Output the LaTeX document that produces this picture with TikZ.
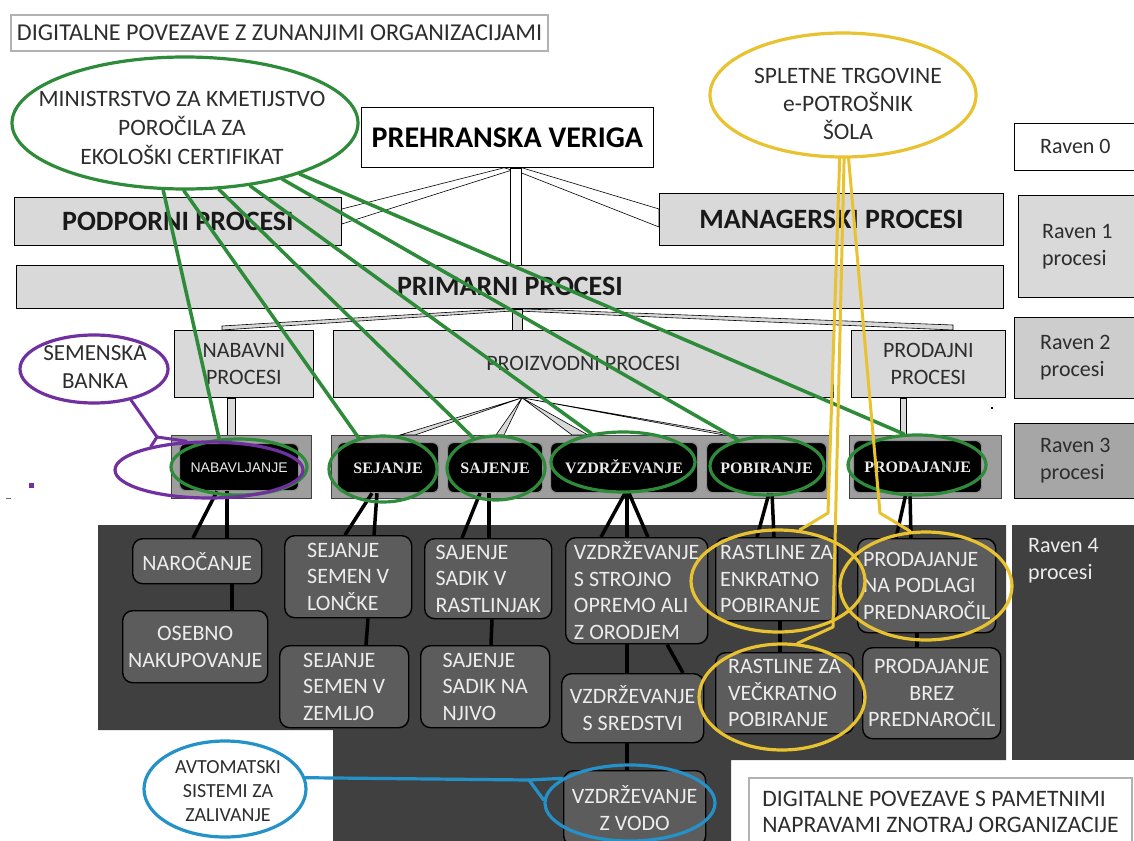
\documentclass[tikz,border=0pt]{standalone}
\usepackage{fontspec}
\setmainfont{Carlito}
\newfontfamily\timesfont{Liberation Serif}
\newfontfamily\arialfont{Liberation Sans}
\usetikzlibrary{shapes.geometric}

\definecolor{lgray}{RGB}{217,217,217}
\definecolor{rtwo}{RGB}{205,205,205}
\definecolor{rthree}{RGB}{166,166,166}
\definecolor{lthree}{RGB}{158,158,158}
\definecolor{dpanel}{RGB}{64,64,64}
\definecolor{lfour}{RGB}{92,92,92}
\definecolor{txtdark}{RGB}{45,45,45}
\definecolor{txtlight}{RGB}{236,236,236}
\definecolor{grn}{RGB}{46,139,57}
\definecolor{ylw}{RGB}{232,194,48}
\definecolor{prp}{RGB}{112,48,160}
\definecolor{blu}{RGB}{36,146,200}

\pgfdeclarelayer{bg}
\pgfdeclarelayer{conn}
\pgfdeclarelayer{top}
\pgfsetlayers{bg,conn,main,top}

\tikzset{
  box/.style={draw=black, line width=0.8pt, anchor=north west, inner sep=0pt, align=center},
  lvlone/.style={box, fill=lgray, text=black!90, font=\fontsize{28}{32}\selectfont\bfseries},
  lvltwo/.style={box, fill=lgray, text=txtdark, font=\fontsize{22}{27}\selectfont},
  ravenbox/.style={box, text=txtdark, align=left, font=\fontsize{22}{27}\selectfont},
  capbox/.style={draw=black!30, line width=2pt, anchor=north west, inner sep=0pt, text=txtdark, font=\fontsize{23.6}{25.5}\selectfont},
  threepanel/.style={draw=black!75, line width=0.8pt, fill=lthree, anchor=north west, inner sep=0pt},
  threeitem/.style={fill=black, draw=black!45, line width=1.2pt, rounded corners=6pt, anchor=north west, inner sep=0pt, text height=11pt, text depth=0pt, text=txtlight, font=\timesfont\bfseries\fontsize{16}{19}\selectfont},
  fouritem/.style={fill=lfour, draw=black, line width=1.4pt, rounded corners=10pt, anchor=north west, inner sep=0pt, text=txtlight, align=left, font=\fontsize{22}{26.6}\selectfont},
  ring/.style={ellipse, inner sep=0pt, line width=3.2pt},
  ringtext/.style={text=txtdark, align=center, inner sep=0pt},
  dblconn/.style={fill=lgray, draw=black, line width=0.6pt},
  wconn/.style={fill=white, draw=black, line width=0.6pt},
  stem/.style={draw=black, line width=3.5pt},
  gline/.style={draw=grn, line width=3.5pt, line cap=round, line join=round},
  yline/.style={draw=ylw, line width=3pt, line cap=round, line join=round},
  pline/.style={draw=prp, line width=3pt, line cap=round, line join=round},
  bline/.style={draw=blu, line width=3.2pt, line cap=round, line join=round}
}

\begin{document}
\begin{tikzpicture}[x=1pt,y=-1pt]
\useasboundingbox (0,0) rectangle (1134,840);

% page background and dark backgrounds of level 4
\begin{pgfonlayer}{bg}
  \fill[white] (0,0) rectangle (1134,840);
  \fill[dpanel] (98,525) -- (1006,525) -- (1006,760) -- (731,760) -- (731,842)
    -- (333,842) -- (333,730) -- (98,730) -- cycle;
  \fill[dpanel] (1012,525) rectangle (1136,760);
\end{pgfonlayer}

% headings
\node[capbox, align=center, minimum width=537pt, minimum height=36pt,
      font=\fontsize{24.2}{26}\selectfont] (ttl) at (10,14)
  {DIGITALNE POVEZAVE Z ZUNANJIMI ORGANIZACIJAMI};

% level 0 and 1
\node[box, fill=white, minimum width=292pt, minimum height=60pt,
      font=\fontsize{30}{34}\selectfont\bfseries] (prv) at (361,107) {PREHRANSKA VERIGA};
\node[ravenbox, fill=white, minimum width=122pt, minimum height=47pt] (r0) at (1014,123) {Raven 0};
\node[lvlone, minimum width=327pt, minimum height=48pt] (pod) at (14,197) {PODPORNI PROCESI};
\node[lvlone, minimum width=344pt, minimum height=52pt] (man) at (659,193) {MANAGERSKI PROCESI};
\node[ravenbox, fill=lgray, minimum width=118pt, minimum height=102pt] (r1) at (1018,195) {Raven 1\\procesi};
\node[lvlone, minimum width=987pt, minimum height=43pt] (prim) at (16,265) {PRIMARNI PROCESI};

% level 2
\node[lvltwo, minimum width=139pt, minimum height=67pt] (nab) at (174,330) {NABAVNI\\PROCESI};
\node[lvltwo, minimum width=500pt, minimum height=67pt] (proiz) at (333,330) {PROIZVODNI PROCESI};
\node[lvltwo, minimum width=154pt, minimum height=67pt] (prod) at (851,330) {PRODAJNI\\PROCESI};
\node[ravenbox, fill=rtwo, minimum width=122pt, minimum height=81pt] (r2) at (1014,317) {Raven 2\\procesi};
\node[ravenbox, fill=rthree, minimum width=122pt, minimum height=75pt] (r3) at (1014,423) {Raven 3\\procesi};

% level 3
\node[threepanel, minimum width=140pt, minimum height=63pt] (pnabp) at (171,435) {};
\node[threepanel, minimum width=498pt, minimum height=63pt] (pprop) at (331,435) {};
\node[threepanel, minimum width=152pt, minimum height=63pt] (pprdp) at (849,435) {};
\node[threeitem, minimum width=119pt, minimum height=47pt,
      font=\arialfont\fontsize{14}{17}\selectfont] (nabl) at (179,443) {NABAVLJANJE};
\node[threeitem, minimum width=101pt, minimum height=50pt] (sej) at (337,442) {SEJANJE};
\node[threeitem, minimum width=95pt, minimum height=50pt] (saj) at (447,442) {SAJENJE};
\node[threeitem, minimum width=147pt, minimum height=50pt] (vzd) at (550,442) {VZDRŽEVANJE};
\node[threeitem, minimum width=120pt, minimum height=50pt] (pob) at (706,442) {POBIRANJE};
\node[threeitem, minimum width=128pt, minimum height=52pt] (prd) at (853,440) {PRODAJANJE};

% level 4
\node[fouritem, align=center, minimum width=129pt, minimum height=45pt] (naroc) at (132,538) {NAROČANJE};
\node[fouritem, align=center, minimum width=145pt, minimum height=72pt] (osebno) at (122,610) {OSEBNO\\NAKUPOVANJE};
\node[fouritem, minimum width=127pt, minimum height=82pt] (lonc) at (284,535) {SEJANJE\\SEMEN V\\LONČKE};
\node[fouritem, minimum width=129pt, minimum height=82pt] (zemlj) at (279,645) {SEJANJE\\SEMEN V\\ZEMLJO};
\node[fouritem, minimum width=127pt, minimum height=80pt] (rastl) at (424,538) {SAJENJE\\SADIK V\\RASTLINJAK};
\node[fouritem, minimum width=129pt, minimum height=82pt] (njivo) at (420,645) {SAJENJE\\SADIK NA\\NJIVO};
\node[fouritem, minimum width=142pt, minimum height=106pt] (stroj) at (565,537) {VZDRŽEVANJE\\S STROJNO\\OPREMO ALI\\Z ORODJEM};
\node[fouritem, align=center, minimum width=142pt, minimum height=69pt] (sredst) at (561,673) {VZDRŽEVANJE\\S SREDSTVI};
\node[fouritem, align=center, minimum width=142pt, minimum height=75pt] (vodo) at (563,770) {VZDRŽEVANJE\\Z VODO};
\node[fouritem, minimum width=122pt, minimum height=83pt] (enkr) at (715,537) {RASTLINE ZA\\ENKRATNO\\POBIRANJE};
\node[fouritem, minimum width=138pt, minimum height=81pt] (veckr) at (715,652) {RASTLINE ZA\\VEČKRATNO\\POBIRANJE};
\node[fouritem, minimum width=138pt, minimum height=94pt] (podl) at (857,538) {PRODAJANJE\\NA PODLAGI\\PREDNAROČIL};
\node[fouritem, align=center, minimum width=138pt, minimum height=91pt] (brez) at (862,647) {PRODAJANJE\\BREZ\\PREDNAROČIL};
\node[anchor=north west, inner sep=0pt, text=txtlight, align=left,
      font=\fontsize{22}{27}\selectfont] (r4) at (1028,538) {Raven 4\\procesi};

\node[capbox, align=left, minimum width=383pt, minimum height=68pt] (ttl2) at (748,777)
  {DIGITALNE POVEZAVE S PAMETNIMI\\NAPRAVAMI ZNOTRAJ ORGANIZACIJE};

% hierarchy connectors
\begin{pgfonlayer}{conn}
  \filldraw[wconn] (504,0 |- prv.south) -- (pod.east |- 0,209) -- (pod.east |- 0,224) -- (512,170) -- cycle;
  \filldraw[wconn] (522,0 |- prv.south) -- (man.west |- 0,209) -- (man.west |- 0,227) -- (514,170) -- cycle;
  \filldraw[wconn] (510,0 |- prv.south) rectangle (521,0 |- prim.north);
  \filldraw[dblconn] (507,0 |- prim.south) -- (222,326) -- (222,0 |- nab.north) -- (512,311) -- cycle;
  \filldraw[dblconn] (521,0 |- prim.south) -- (953,325) -- (953,0 |- prod.north) -- (517,311) -- cycle;
  \filldraw[dblconn] (512,0 |- prim.south) rectangle (522,0 |- proiz.north);
  \filldraw[dblconn] (227,0 |- nab.south) rectangle (235,0 |- pnabp.north);
  \filldraw[dblconn] (900,0 |- prod.south) rectangle (906,0 |- pprdp.north);
  \coordinate (apex) at (522,0 |- proiz.south);
  \filldraw[dblconn] (apex) -- (400,0 |- pprop.north) -- (415,0 |- pprop.north) -- cycle;
  \filldraw[dblconn] (apex) -- (496,0 |- pprop.north) -- (504,0 |- pprop.north) -- cycle;
  \filldraw[dblconn] (apex) -- (572,0 |- pprop.north) -- (588,0 |- pprop.north) -- cycle;
  \filldraw[dblconn] (apex) -- (724,0 |- pprop.north) -- (735,0 |- pprop.north) -- cycle;
\end{pgfonlayer}

% stems from level 3 to level 4
\draw[stem] (217,0 |- nabl.south) -- (193,0 |- naroc.north);
\draw[stem] (227,0 |- nabl.south) -- (227,0 |- naroc.north);
\draw[stem] (232,0 |- naroc.south) -- (232,0 |- osebno.north);
\draw[stem] (372,0 |- sej.south) -- (345,0 |- lonc.north);
\draw[stem] (377,0 |- sej.south) -- (374,0 |- lonc.north);
\draw[stem] (368,0 |- lonc.south) -- (366,0 |- zemlj.north);
\draw[stem] (480,0 |- saj.south) -- (462,0 |- rastl.north);
\draw[stem] (489,0 |- saj.south) -- (489,0 |- rastl.north);
\draw[stem] (492,0 |- rastl.south) -- (491,0 |- njivo.north);
\draw[stem] (625,0 |- vzd.south) -- (601,0 |- stroj.north);
\draw[stem] (627,0 |- vzd.south) -- (627,0 |- stroj.north);
\draw[stem] (629,0 |- vzd.south) -- (648,0 |- stroj.north);
\draw[stem] (627,0 |- stroj.south) -- (627,0 |- sredst.north);
\draw[stem] (667,0 |- stroj.south) -- (683,0 |- sredst.north);
\draw[stem] (627,0 |- sredst.south) -- (627,0 |- vodo.north);
\draw[stem] (769,0 |- pob.south) -- (757,0 |- enkr.north);
\draw[stem] (772,0 |- pob.south) -- (774,0 |- enkr.north);
\draw[stem] (780,0 |- enkr.south) -- (780,0 |- veckr.north);
\draw[stem] (906,0 |- prd.south) -- (896,0 |- podl.north);
\draw[stem] (910,0 |- prd.south) -- (911,0 |- podl.north);
\draw[stem] (917,0 |- podl.south) -- (917,0 |- brez.north);

% small marks
\fill[prp] (29,483) rectangle (34,488);
\draw[black!60, line width=1pt] (6,498) -- (11,498);
\fill[black] (991,407) rectangle (993,409);

% coloured highlights
\begin{pgfonlayer}{top}
  % ministry links (green)
  \node[ring, draw=grn, minimum width=346pt, minimum height=132pt] (min) at (185,123) {};
  \node[ringtext, font=\fontsize{23.5}{29}\selectfont] (mintxt) at (182,128)
    {MINISTRSTVO ZA KMETIJSTVO\\POROČILA ZA\\EKOLOŠKI CERTIFIKAT};
  \node[ring, draw=grn, minimum width=136pt, minimum height=56pt] (gnab) at (239,467) {};
  \node[ring, draw=grn, minimum width=108pt, minimum height=66pt] (gsej) at (383,469) {};
  \node[ring, draw=grn, minimum width=98pt, minimum height=64pt] (gsaj) at (496,468) {};
  \node[ring, draw=grn, minimum width=144pt, minimum height=60pt] (gvzd) at (623,462) {};
  \node[ring, draw=grn, minimum width=114pt, minimum height=58pt] (gpob) at (767,466) {};
  \node[ring, draw=grn, minimum width=138pt, minimum height=60pt] (gprd) at (917,465) {};
  \draw[gline] (min.252) -- (gnab.125);
  \draw[gline] (min.269) -- (gsej.128);
  \draw[gline] (min.297) -- (gsaj.127);
  \draw[gline] (min.316) -- (gvzd.138);
  \draw[gline] (min.330) -- (gpob.138);
  \draw[gline] (min.336) -- (gprd.113);

  % online shops (yellow)
  \node[ring, draw=ylw, minimum width=266pt, minimum height=124pt] (spl) at (843,95) {};
  \node[ringtext, font=\fontsize{23.5}{28}\selectfont] (spltxt) at (848,104)
    {SPLETNE TRGOVINE\\e-POTROŠNIK\\ŠOLA};
  \node[ring, draw=ylw, minimum width=174pt, minimum height=102pt] (yenk) at (778,581) {};
  \node[ring, draw=ylw, minimum width=166pt, minimum height=106pt] (yvec) at (782,697) {};
  \node[ring, draw=ylw, minimum width=172pt, minimum height=108pt] (ypod) at (926,586) {};
  \draw[yline] (spl.267) -- (828,513) -- (yenk.67);
  \draw[yline] (spl.271) -- (833,627) -- (yvec.74);
  \draw[yline] (spl.275) -- (880,513) -- (ypod.106);

  % seed bank (purple)
  \node[ring, draw=prp, minimum width=148pt, minimum height=68pt] (sem) at (94,369) {};
  \node[ringtext, font=\fontsize{23}{28}\selectfont] (semtxt) at (95,367) {SEMENSKA\\BANKA};
  \node[ring, draw=prp, minimum width=188pt, minimum height=56pt] (pnab) at (209,470) {};
  \coordinate (ptip) at (157,437);
  \draw[pline] (sem.320) -- (ptip) -- (pnab.128);
  \draw[pline] (ptip) -- (pnab.158);

  % irrigation (blue)
  \node[ring, draw=blu, minimum width=162pt, minimum height=96pt] (avt) at (225,789) {};
  \node[ringtext, font=\fontsize{20}{24}\selectfont] (avttxt) at (228,791)
    {AVTOMATSKI\\SISTEMI ZA\\ZALIVANJE};
  \node[ring, draw=blu, minimum width=170pt, minimum height=76pt] (bvodo) at (630,803) {};
  \coordinate (btip) at (529,780);
  \draw[bline] (avt.8) -- (btip) -- (bvodo.160);
  \draw[bline] (btip) -- (bvodo.178);
\end{pgfonlayer}
\end{tikzpicture}
\end{document}
